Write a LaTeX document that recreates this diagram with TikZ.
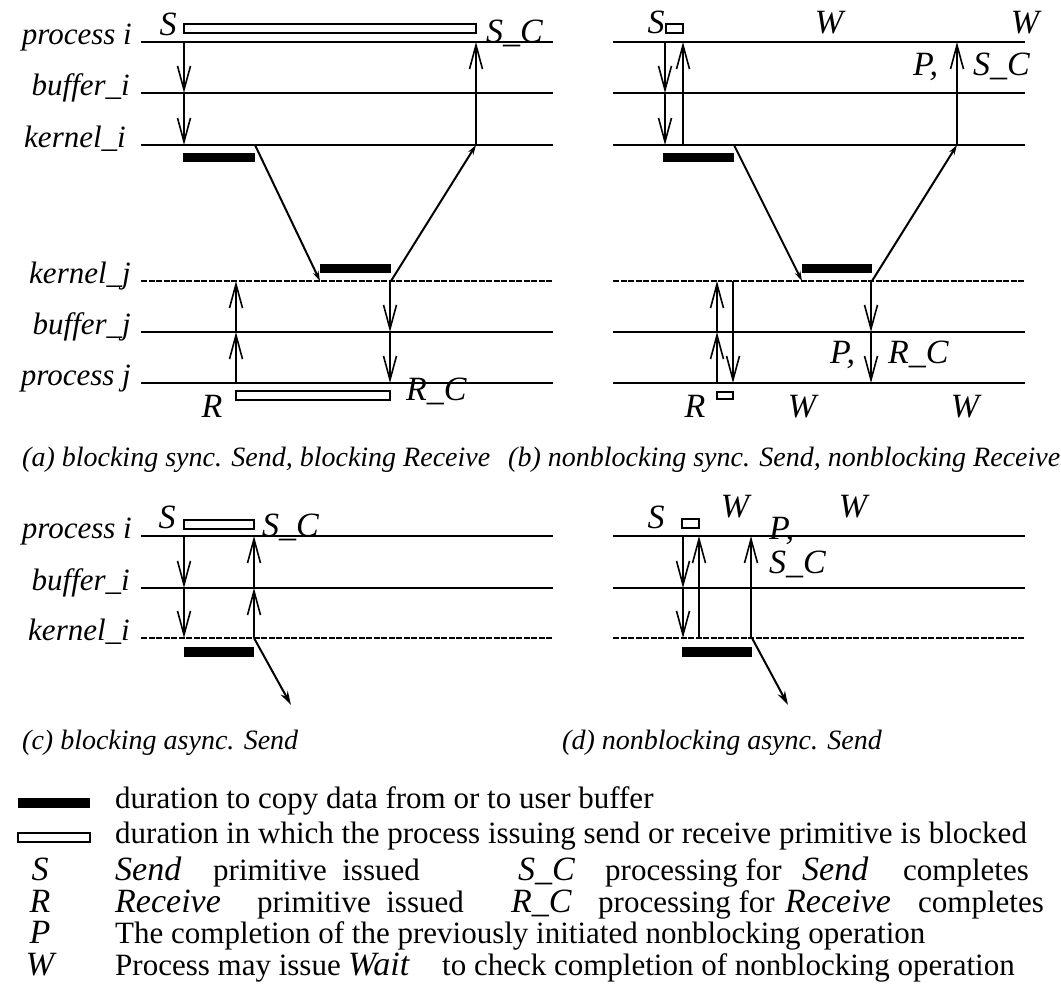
\documentclass[tikz,border=0pt]{standalone}
\usepackage{fontspec}
\setmainfont{Liberation Serif}
\usetikzlibrary{arrows.meta}
\begin{document}
\begin{tikzpicture}[x=1pt,y=-1pt,
  lane/.style={line width=2.8pt},
  thinlane/.style={line width=1.4pt},
  dashlane/.style={line width=2.8pt, dash pattern=on 6pt off 1.5pt},
  lab/.style={font=\fontsize{31}{31}\selectfont\itshape, anchor=mid east, inner sep=0pt},
  big/.style={font=\fontsize{34}{34}\selectfont\itshape, inner sep=0pt},
  msg/.style={line width=1.8pt, -{Straight Barb[length=24pt,width=13pt,line width=1.6pt]}},
  diag/.style={line width=2pt, -{Stealth[length=10pt,width=6pt]}},
  diagc/.style={line width=2pt, -{Stealth[length=14pt,width=8pt]}},
  copybar/.style={fill=black, draw=none},
  blockbar/.style={draw=black, line width=1.8pt, fill=white},
  captxt/.style={font=\fontsize{28}{28}\selectfont\itshape, anchor=base west, inner sep=0pt},
  leg/.style={font=\fontsize{31}{31}\selectfont, anchor=base west, inner sep=0pt},
  legi/.style={font=\fontsize{34}{34}\selectfont\itshape, anchor=base west, inner sep=0pt},
  legs/.style={font=\fontsize{34}{34}\selectfont\itshape, anchor=base, inner sep=0pt},
]
\useasboundingbox (0,0) rectangle (1061,985);

% ================= panel (a) =================
\draw[lane] (141,42) -- (553,42);
\draw[lane] (141,93) -- (553,93);
\draw[thinlane] (141,145) -- (553,145);
\draw[dashlane] (141,281) -- (553,281);
\draw[lane] (141,332) -- (553,332);
\draw[lane] (141,383) -- (553,383);
\node[lab] (a-pi) at (132,42) {process i};
\node[lab] (a-bi) at (130,93) {buffer\_i};
\node[lab] (a-ki) at (126,145) {kernel\_i};
\node[lab] (a-kj) at (131,281) {kernel\_j};
\node[lab] (a-bj) at (131,332) {buffer\_j};
\node[lab] (a-pj) at (131,383) {process j};

\draw[blockbar] (184,24) rectangle (476,33);
\fill[copybar] (183,153) rectangle (255,162);
\fill[copybar] (320,264) rectangle (391,273);
\draw[blockbar] (236,391) rectangle (390,400);

\coordinate (a1) at (184,42);
\coordinate (a2) at (184,93);
\coordinate (a3) at (184,145);
\coordinate (a4) at (255,145);
\coordinate (a5) at (320,281);
\coordinate (a6) at (391,281);
\coordinate (a7) at (476,145);
\coordinate (a8) at (476,42);
\coordinate (a9) at (236,383);
\coordinate (a10) at (236,332);
\coordinate (a11) at (236,281);
\coordinate (a12) at (390,281);
\coordinate (a13) at (390,332);
\coordinate (a14) at (390,383);
\draw[msg] (a1) -- (a2);
\draw[msg] (a2) -- (a3);
\draw[diag] (a4) -- (a5);
\draw[diag] (a6) -- (a7);
\draw[msg] (a7) -- (a8);
\draw[msg] (a9) -- (a10);
\draw[msg] (a10) -- (a11);
\draw[msg] (a12) -- (a13);
\draw[msg] (a13) -- (a14);

\node[big,anchor=base] (aS) at (168,35) {S};
\node[big,anchor=base west] (aSC) at (486,42) {S\_C};
\node[big,anchor=base] (aR) at (212,417) {R};
\node[big,anchor=base west] (aRC) at (406,400) {R\_C};
\node[captxt] (capa) at (22,466) {(a) blocking sync. Send, blocking Receive};

% ================= panel (b) =================
\draw[lane] (613,42) -- (1025,42);
\draw[lane] (613,93) -- (1025,93);
\draw[thinlane] (613,145) -- (1025,145);
\draw[dashlane] (613,281) -- (1025,281);
\draw[lane] (613,332) -- (1025,332);
\draw[lane] (613,383) -- (1025,383);

\draw[blockbar] (666,24) rectangle (683,33);
\fill[copybar] (663,153) rectangle (734,162);
\fill[copybar] (802,264) rectangle (872,273);
\draw[blockbar] (717,392) rectangle (733,399);

\coordinate (b1) at (665,42);
\coordinate (b2) at (665,93);
\coordinate (b3) at (665,145);
\coordinate (b4) at (683,145);
\coordinate (b5) at (683,42);
\coordinate (b6) at (734,145);
\coordinate (b7) at (802,281);
\coordinate (b8) at (872,281);
\coordinate (b9) at (957,145);
\coordinate (b10) at (957,42);
\coordinate (b11) at (717,383);
\coordinate (b12) at (717,332);
\coordinate (b13) at (717,281);
\coordinate (b14) at (733,281);
\coordinate (b15) at (733,383);
\coordinate (b16) at (871,281);
\coordinate (b17) at (871,332);
\coordinate (b18) at (871,383);
\draw[msg] (b1) -- (b2);
\draw[msg] (b2) -- (b3);
\draw[msg] (b4) -- (b5);
\draw[diag] (b6) -- (b7);
\draw[diag] (b8) -- (b9);
\draw[msg] (b9) -- (b10);
\draw[msg] (b11) -- (b12);
\draw[msg] (b12) -- (b13);
\draw[msg] (b14) -- (b15);
\draw[msg] (b16) -- (b17);
\draw[msg] (b17) -- (b18);

\node[big,anchor=base] (bS) at (656,33) {S};
\node[big,anchor=base] (bW1) at (829,33) {W};
\node[big,anchor=base] (bW2) at (1025,33) {W};
\node[big,anchor=base west] (bP1) at (913,75) {P,};
\node[big,anchor=base west] (bSC) at (973,75) {S\_C};
\node[big,anchor=base] (bR) at (695,417) {R};
\node[big,anchor=base] (bW3) at (802,417) {W};
\node[big,anchor=base] (bW4) at (965,417) {W};
\node[big,anchor=base west] (bP2) at (830,363) {P,};
\node[big,anchor=base west] (bRC) at (888,363) {R\_C};
\node[captxt] (capb) at (508,466) {(b) nonblocking sync. Send, nonblocking Receive};

% ================= panel (c) =================
\draw[lane] (141,536) -- (553,536);
\draw[lane] (141,588) -- (553,588);
\draw[dashlane] (141,638) -- (553,638);
\node[lab] (c-pi) at (132,536) {process i};
\node[lab] (c-bi) at (130,588) {buffer\_i};
\node[lab] (c-ki) at (130,638) {kernel\_i};

\draw[blockbar] (184,520) rectangle (254,529);
\fill[copybar] (184,647) rectangle (254,657);

\coordinate (c1) at (184,536);
\coordinate (c2) at (184,588);
\coordinate (c3) at (184,638);
\coordinate (c4) at (254,638);
\coordinate (c5) at (254,588);
\coordinate (c6) at (254,536);
\coordinate (c7) at (291,705);
\draw[msg] (c1) -- (c2);
\draw[msg] (c2) -- (c3);
\draw[msg] (c4) -- (c5);
\draw[msg] (c5) -- (c6);
\draw[diagc] (c4) -- (c7);

\node[big,anchor=base] (cS) at (167,528) {S};
\node[big,anchor=base west] (cSC) at (262,536) {S\_C};
\node[captxt] (capc) at (22,749) {(c) blocking async. Send};

% ================= panel (d) =================
\draw[lane] (613,536) -- (1025,536);
\draw[lane] (613,588) -- (1025,588);
\draw[dashlane] (613,638) -- (1025,638);

\draw[blockbar] (682,519) rectangle (699,528);
\fill[copybar] (682,647) rectangle (752,657);

\coordinate (d1) at (683,536);
\coordinate (d2) at (683,588);
\coordinate (d3) at (683,638);
\coordinate (d4) at (699,638);
\coordinate (d5) at (699,536);
\coordinate (d6) at (751,638);
\coordinate (d7) at (751,536);
\coordinate (d8) at (752,638);
\coordinate (d9) at (788,705);
\draw[msg] (d1) -- (d2);
\draw[msg] (d2) -- (d3);
\draw[msg] (d4) -- (d5);
\draw[msg] (d6) -- (d7);
\draw[diagc] (d8) -- (d9);

\node[big,anchor=base] (dS) at (656,528) {S};
\node[big,anchor=base] (dW1) at (735,517) {W};
\node[big,anchor=base] (dW2) at (853,517) {W};
\node[big,anchor=base west] (dP) at (769,539) {P,};
\node[big,anchor=base west] (dSC) at (769,573) {S\_C};
\node[captxt] (capd) at (562,749) {(d) nonblocking async. Send};

% ================= legend =================
\fill[copybar] (18,798) rectangle (90,808);
\draw[blockbar] (18,833) rectangle (90,842);
\node[leg] (l1) at (115,808) {duration to copy data from or to user buffer};
\node[leg] (l2) at (115,843) {duration in which the process issuing send or receive primitive is blocked};

\node[legs] (lS) at (40,880) {S};
\node[legi] (l3a) at (115,880) {Send};
\node[leg] (l3b) at (213,880) {primitive\ \ issued};
\node[legi] (l3c) at (518,880) {S\_C};
\node[leg] (l3d) at (605,880) {processing for};
\node[legi] (l3e) at (802,880) {Send};
\node[leg] (l3f) at (903,880) {completes};

\node[legs] (lR) at (40,912) {R};
\node[legi] (l4a) at (115,912) {Receive};
\node[leg] (l4b) at (257,912) {primitive\ \ issued};
\node[legi] (l4c) at (511,912) {R\_C};
\node[leg] (l4d) at (598,912) {processing for};
\node[legi] (l4e) at (785,912) {Receive};
\node[leg] (l4f) at (918,912) {completes};

\node[legs] (lP) at (40,943) {P};
\node[leg] (l5) at (115,943) {The completion of the previously initiated nonblocking operation};

\node[legs] (lW) at (40,975) {W};
\node[leg] (l6a) at (115,975) {Process may issue};
\node[legi] (l6b) at (348,975) {Wait};
\node[leg] (l6c) at (442,975) {to check completion of nonblocking operation};
\end{tikzpicture}
\end{document}
